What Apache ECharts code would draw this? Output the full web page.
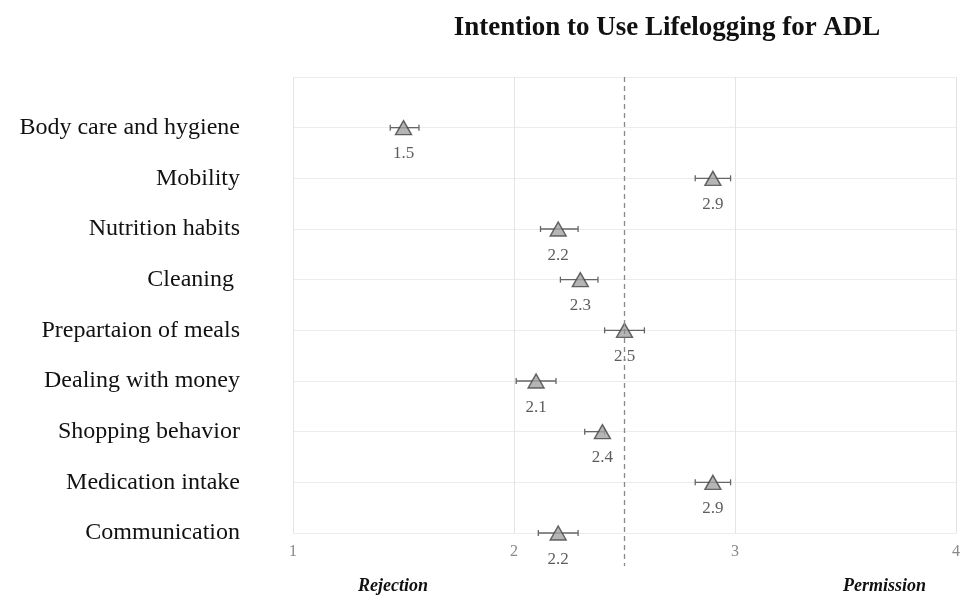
<!DOCTYPE html>
<html><head><meta charset="utf-8">
<script src="https://cdn.jsdelivr.net/npm/echarts@6/dist/echarts.min.js"></script>
<style>html,body{margin:0;padding:0;background:#fff}#c{width:966px;height:596px}</style>
</head><body><div id="c"></div>
<script>
var categories = ['Body care and hygiene','Mobility','Nutrition habits','Cleaning ','Prepartaion of meals','Dealing with money','Shopping behavior','Medication intake','Communication'];
var means = [1.5, 2.9, 2.2, 2.3, 2.5, 2.1, 2.4, 2.9, 2.2];
var errLow = [1.44, 2.82, 2.12, 2.21, 2.41, 2.01, 2.32, 2.82, 2.11];
var errHigh = [1.57, 2.98, 2.29, 2.38, 2.59, 2.19, 2.41, 2.98, 2.29];
var xTicks = [1, 2, 3, 4];
var midpoint = 2.5;

var serif = '"Liberation Serif", "DejaVu Serif", serif';
var chart = echarts.init(document.getElementById('c'));
var pts = means.map(function(v,i){return [v, i+1];});
var errs = means.map(function(v,i){return [errLow[i], errHigh[i], i+1];});
chart.setOption({
  animation:false,
  title:{text:'Intention to Use Lifelogging for ADL', left:662, top:10, textAlign:'center',
    textStyle:{fontFamily:serif, fontWeight:'bold', fontSize:27, color:'#111'}},
  grid:{left:293, right:10, top:77, bottom:63},
  xAxis:{type:'value', min:xTicks[0], max:xTicks[xTicks.length-1], interval:1,
    axisLine:{show:false}, axisTick:{show:false},
    axisLabel:{fontFamily:serif, fontSize:16, color:'#888', margin:11},
    splitLine:{show:true, lineStyle:{color:'#e4e4e4', width:1}}},
  yAxis:{type:'value', min:0, max:categories.length, interval:1, inverse:true,
    axisLine:{show:false}, axisTick:{show:false},
    axisLabel:{fontFamily:serif, fontSize:24, color:'#111', margin:53,
      formatter:function(v){return categories[v-1]||'';}},
    splitLine:{show:true, lineStyle:{color:'#ececec', width:1}}},
  series:[
    {type:'custom', data:errs, z:2,
      renderItem:function(params, api){
        var y = api.value(2);
        var a = api.coord([api.value(0), y]);
        var b = api.coord([api.value(1), y]);
        var h = 3;
        var st = {stroke:'#666', lineWidth:1.3};
        return {type:'group', children:[
          {type:'line', shape:{x1:a[0], y1:a[1], x2:b[0], y2:b[1]}, style:st},
          {type:'line', shape:{x1:a[0], y1:a[1]-h, x2:a[0], y2:a[1]+h}, style:st},
          {type:'line', shape:{x1:b[0], y1:b[1]-h, x2:b[0], y2:b[1]+h}, style:st}
        ]};
      }},
    {type:'scatter', data:pts, z:3, symbol:'triangle', symbolSize:[16,14],
      itemStyle:{color:'#a3a3a3', borderColor:'#444', borderWidth:1.4},
      label:{show:true, position:'bottom', distance:10, fontFamily:serif, fontSize:17, color:'#333',
        formatter:function(p){return p.value[0].toFixed(1);}},
      markLine:{silent:true, symbol:'none', label:{show:false},
        lineStyle:{type:[5,4], color:'#888', width:1.3},
        data:[[{coord:[midpoint,0]},{coord:[midpoint,categories.length], y:566}]]}
    }
  ],
  graphic:[
    {type:'text', left:358, top:577, style:{text:'Rejection', font:'italic bold 18px '+serif, fill:'#111'}},
    {type:'text', left:843, top:577, style:{text:'Permission', font:'italic bold 18px '+serif, fill:'#111'}}
  ]
});
</script></body></html>
